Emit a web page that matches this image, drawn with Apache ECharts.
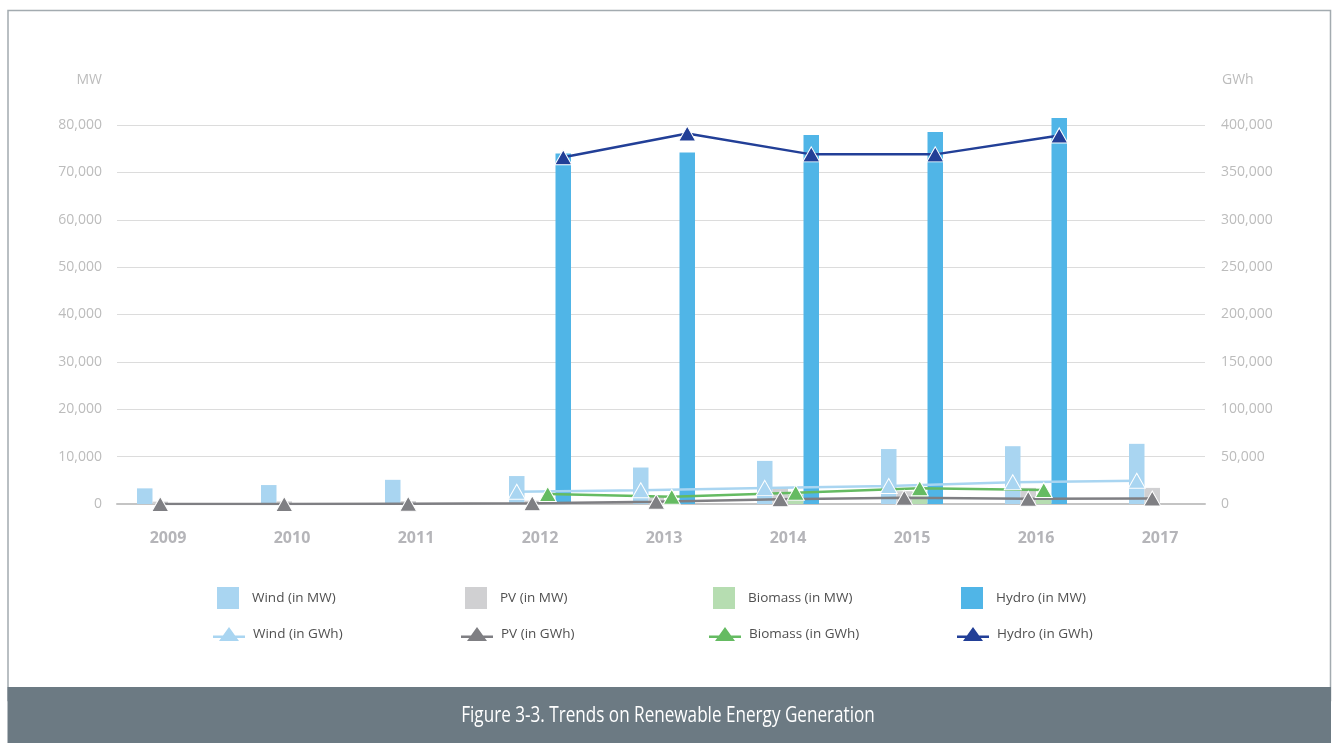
<!DOCTYPE html>
<html>
<head>
<meta charset="utf-8">
<title>Trends on Renewable Energy Generation</title>
<script src="https://cdn.jsdelivr.net/npm/echarts@6/dist/echarts.min.js"></script>
<style>
  html, body { margin: 0; padding: 0; background: #ffffff; }
  #chart { width: 1333px; height: 743px; }
</style>
</head>
<body>
<div id="chart"></div>
<script>
// Categories
const years = ['2009', '2010', '2011', '2012', '2013', '2014', '2015', '2016', '2017'];

// Installed capacity (MW) - bars, left axis
const windMW    = [3300, 4000, 5100, 5900, 7700, 9100, 11600, 12200, 12700];
const pvMW      = [500, 550, 600, 700, 1500, 3400, 2700, 3400, 3400];
const biomassMW = [0, 0, 0, 300, 600, 2000, 2600, 1500, 0];
const hydroMW   = [0, 0, 0, 74000, 74200, 77900, 78500, 81500, 0];

// Generation (GWh) - lines, right axis
const windGWh    = [null, null, null, 13000, 14500, 17000, 19000, 23000, 24500];
const pvGWh      = [0, 0, 300, 700, 2400, 5000, 6500, 5500, 5800];
const biomassGWh = [null, null, null, 10600, 7700, 11900, 16600, 14800, null];
const hydroGWh   = [null, null, null, 366000, 391000, 369000, 369000, 389000, null];

// Axis ticks
const mwTicks  = { min: 0, max: 80000, interval: 10000 };
const gwhTicks = { min: 0, max: 400000, interval: 50000 };

const colors = {
  wind: '#a9d5f1', windLine: '#a9d5f1',
  pv: '#d0d0d2', pvLine: '#7f7f83',
  biomass: '#b6ddb1', biomassLine: '#65bb62',
  hydro: '#50b5e7', hydroLine: '#223f97'
};

// Each line point sits above its own bar inside the year cluster
const BAR_FRAC = 0.125;
const offsets = [-1.5 * BAR_FRAC, -0.5 * BAR_FRAC, 0.5 * BAR_FRAC, 1.5 * BAR_FRAC];
function linePoints(values, k) {
  const out = [];
  values.forEach((v, i) => { if (v !== null) out.push([i + offsets[k], v]); });
  return out;
}

const fmt = v => v.toLocaleString('en-US');
const labelColor = '#bcbcbc';
const baseFont = 'Open Sans';
// legend glyph for the GWh lines: a short stroke with a triangle marker on it
const lineIcon = 'path://M0,8.5L32,8.5L32,11L0,11Z M16,0L26,14L6,14Z';

function barSeries(name, data, color) {
  return {
    name, type: 'bar', xAxisIndex: 1, yAxisIndex: 2, data,
    barWidth: (BAR_FRAC * 100) + '%', barGap: '0%', clip: false,
    itemStyle: { color }, z: 2, emphasis: { disabled: true }
  };
}
function lineSeries(name, values, k, color) {
  return {
    name, type: 'line', xAxisIndex: 2, yAxisIndex: 3,
    data: linePoints(values, k),
    symbol: 'triangle', symbolSize: [17, 15], showSymbol: true,
    lineStyle: { color, width: 2.5 },
    itemStyle: { color, borderColor: '#ffffff', borderWidth: 1 },
    z: 4, emphasis: { disabled: true }
  };
}

function legendItem(name, left, top, isLine) {
  return {
    data: [name], left, top, orient: 'horizontal', padding: 0,
    selectedMode: false,
    itemWidth: isLine ? 32 : 22, itemHeight: isLine ? 14 : 22,
    icon: isLine ? lineIcon : 'rect',
    itemStyle: { borderWidth: 0 },
    lineStyle: { width: 0 },
    textStyle: { fontFamily: baseFont, fontSize: 13.5, color: '#505050', padding: [0, 0, 0, isLine ? 3 : 8] }
  };
}

const option = {
  animation: false,
  backgroundColor: '#ffffff',
  textStyle: { fontFamily: baseFont },
  graphic: [
    { type: 'rect', shape: { x: 8, y: 10.5, width: 1322.5, height: 690 },
      style: { fill: 'none', stroke: '#a3abb0', lineWidth: 1.5 }, z: -10 },
    { type: 'rect', shape: { x: 7.5, y: 687, width: 1323.5, height: 56 },
      style: { fill: '#6c7a83' }, z: -5 },
    { type: 'text', x: 668, y: 716, scaleX: 0.815, originX: 0, originY: 0,
      style: { text: 'Figure 3-3. Trends on Renewable Energy Generation',
               fill: '#ffffff', font: '21px "Open Sans", sans-serif',
               textAlign: 'center', textVerticalAlign: 'middle' } }
  ],
  grid: [
    { left: 117, right: 128, top: 125, bottom: 239 },
    { left: 106, right: 111, top: 125, bottom: 239 }
  ],
  legend: [
    legendItem('Wind (in MW)', 217, 587, false),
    legendItem('PV (in MW)', 465, 587, false),
    legendItem('Biomass (in MW)', 713, 587, false),
    legendItem('Hydro (in MW)', 961, 587, false),
    legendItem('Wind (in GWh)', 213, 627, true),
    legendItem('PV (in GWh)', 461, 627, true),
    legendItem('Biomass (in GWh)', 709, 627, true),
    legendItem('Hydro (in GWh)', 957, 627, true)
  ],
  xAxis: [
    { // frame axis carrying the zero line
      type: 'value', gridIndex: 0, min: 0, max: 1,
      axisLine: { show: true, lineStyle: { color: '#c4c4c4', width: 2 } },
      axisTick: { show: false }, axisLabel: { show: false }, splitLine: { show: false }
    },
    { // year categories for the bars
      type: 'category', gridIndex: 1, data: years,
      axisLine: { show: false }, axisTick: { show: false }, splitLine: { show: false },
      axisLabel: { color: '#b5b5b9', fontSize: 16, fontWeight: 'bold', fontFamily: baseFont, margin: 26 }
    },
    { // same years as a continuous scale for the line points
      type: 'value', gridIndex: 1, min: -0.5, max: 8.5, show: false
    }
  ],
  yAxis: [
    {
      type: 'value', gridIndex: 0, position: 'left', ...mwTicks,
      name: 'MW', nameLocation: 'end', nameGap: 38,
      nameTextStyle: { color: labelColor, fontSize: 14, fontFamily: baseFont, align: 'right', padding: [0, 15, 0, 0] },
      axisLine: { show: false }, axisTick: { show: false },
      axisLabel: { color: labelColor, fontSize: 14, fontFamily: baseFont, margin: 15, formatter: fmt },
      splitLine: { show: true, lineStyle: { color: '#dcdcdc', width: 1 } }
    },
    {
      type: 'value', gridIndex: 0, position: 'right', ...gwhTicks,
      name: 'GWh', nameLocation: 'end', nameGap: 38,
      nameTextStyle: { color: labelColor, fontSize: 14, fontFamily: baseFont, align: 'left', padding: [0, 0, 0, 17] },
      axisLine: { show: false }, axisTick: { show: false },
      axisLabel: { color: labelColor, fontSize: 14, fontFamily: baseFont, margin: 16, formatter: fmt },
      splitLine: { show: false }
    },
    { type: 'value', gridIndex: 1, ...mwTicks, show: false },
    { type: 'value', gridIndex: 1, ...gwhTicks, show: false }
  ],
  series: [
    barSeries('Wind (in MW)', windMW, colors.wind),
    barSeries('PV (in MW)', pvMW, colors.pv),
    barSeries('Biomass (in MW)', biomassMW, colors.biomass),
    barSeries('Hydro (in MW)', hydroMW, colors.hydro),
    lineSeries('Wind (in GWh)', windGWh, 0, colors.windLine),
    lineSeries('PV (in GWh)', pvGWh, 1, colors.pvLine),
    lineSeries('Biomass (in GWh)', biomassGWh, 2, colors.biomassLine),
    lineSeries('Hydro (in GWh)', hydroGWh, 3, colors.hydroLine)
  ]
};

const chart = echarts.init(document.getElementById('chart'));
chart.setOption(option);
</script>
</body>
</html>
